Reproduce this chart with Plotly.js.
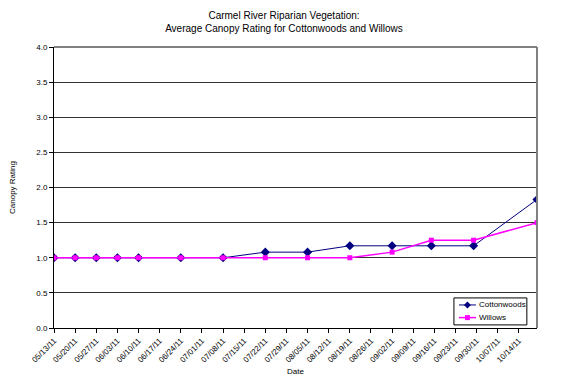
<!DOCTYPE html>
<html><head><meta charset="utf-8">
<script src="https://cdn.plot.ly/plotly-3.0.1.min.js"></script>
<style>html,body{margin:0;padding:0;background:#fff;}#chart{width:568px;height:385px;}</style>
</head><body><div id="chart"></div>
<script>
const dates = ['2011-05-13','2011-05-20','2011-05-27','2011-06-03','2011-06-10','2011-06-24','2011-07-08','2011-07-22','2011-08-05','2011-08-19','2011-09-02','2011-09-15','2011-09-29','2011-10-20'];
const cottonwoods = [1.0,1.0,1.0,1.0,1.0,1.0,1.0,1.08,1.08,1.17,1.17,1.17,1.17,1.83];
const willows     = [1.0,1.0,1.0,1.0,1.0,1.0,1.0,1.0,1.0,1.0,1.08,1.25,1.25,1.5];
const seriesNames = ['Cottonwoods','Willows'];
const seriesColors = ['#000080','#FF00FF'];
const titleLines = ['Carmel River Riparian Vegetation:','Average Canopy Rating for Cottonwoods and Willows'];

const font = {family:'Liberation Sans, Arial, sans-serif', color:'#000'};
const traces = [
  {x:dates, y:cottonwoods, name:seriesNames[0], type:'scatter', mode:'lines+markers',
   line:{color:seriesColors[0], width:1}, marker:{symbol:'diamond', size:7, color:seriesColors[0]}},
  {x:dates, y:willows, name:seriesNames[1], type:'scatter', mode:'lines+markers',
   line:{color:seriesColors[1], width:1.5}, marker:{symbol:'square', size:5, color:seriesColors[1]}}
];

// custom compact legend (paper coordinates)
const legY = [0.082, 0.037];
const shapes = [
  {type:'line', xref:'paper', yref:'paper', x0:0, x1:1, y0:1, y1:1, line:{color:'#808080', width:2}},
  {type:'line', xref:'paper', yref:'paper', x0:1, x1:1, y0:0, y1:1, line:{color:'#808080', width:2}},
  {type:'rect', xref:'paper', yref:'paper', x0:0.828, x1:0.979, y0:0.011, y1:0.107,
   line:{color:'#000', width:1}, fillcolor:'#fff', layer:'above'}
];
const annotations = [];
seriesNames.forEach((n,i)=>{
  shapes.push({type:'line', xref:'paper', yref:'paper', x0:0.8385, x1:0.8737, y0:legY[i], y1:legY[i],
    line:{color:seriesColors[i], width:i===0?1:1.5}, layer:'above'});
  const path = i===0 ? 'M0,3.5 L3.5,0 L0,-3.5 L-3.5,0 Z' : 'M-2.5,-2.5 L2.5,-2.5 L2.5,2.5 L-2.5,2.5 Z';
  shapes.push({type:'path', xref:'paper', yref:'paper', xsizemode:'pixel', ysizemode:'pixel',
    xanchor:0.856, yanchor:legY[i], path:path, fillcolor:seriesColors[i], line:{width:0}, layer:'above'});
  annotations.push({xref:'paper', yref:'paper', x:0.8758, y:legY[i], xanchor:'left', yanchor:'middle',
    text:n, showarrow:false, font:Object.assign({}, font, {size:8})});
});

const layout = {
  width:568, height:385,
  margin:{l:54, r:31, t:47, b:57},
  paper_bgcolor:'#fff', plot_bgcolor:'#fff',
  font:Object.assign({size:8}, font),
  title:{text:titleLines.join('<br>'), x:0.5, xanchor:'center', yref:'container', y:1-19/385, yanchor:'middle',
         font:Object.assign({}, font, {size:10})},
  showlegend:false,
  xaxis:{type:'date', range:['2011-05-13','2011-10-20'], tick0:'2011-05-13', dtick:7*24*3600*1000,
         tickformat:'%m/%d/%y', tickangle:-45, ticks:'outside', ticklen:4, tickcolor:'#000',
         showline:true, linecolor:'#000', linewidth:1, showgrid:false, zeroline:false,
         tickfont:Object.assign({}, font, {size:8}),
         title:{text:'Date', font:Object.assign({}, font, {size:8}), standoff:4}},
  yaxis:{range:[0,4], dtick:0.5, tickformat:'.1f', ticks:'outside', ticklen:4, tickcolor:'#000',
         showline:true, linecolor:'#000', linewidth:1, showgrid:true, gridcolor:'#333', gridwidth:1,
         zeroline:false, tickfont:Object.assign({}, font, {size:8}),
         title:{text:'Canopy Rating', font:Object.assign({}, font, {size:8}), standoff:19}},
  shapes:shapes,
  annotations:annotations
};
Plotly.newPlot('chart', traces, layout, {displayModeBar:false, staticPlot:true});
</script></body></html>
